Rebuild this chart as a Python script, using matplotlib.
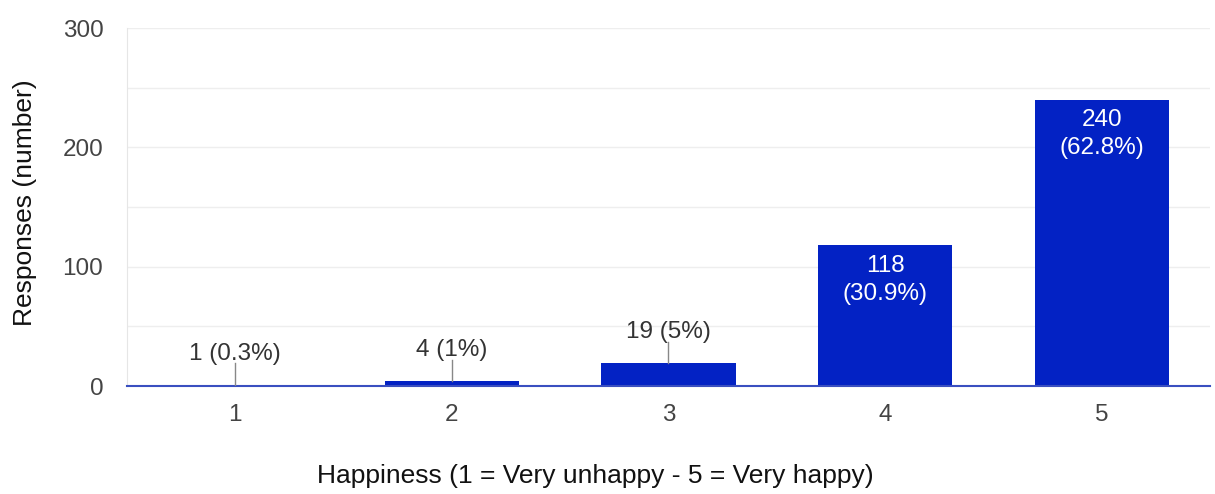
import matplotlib.pyplot as plt

plt.rcParams['font.family'] = ['Liberation Sans', 'DejaVu Sans']

categories = ['1', '2', '3', '4', '5']
responses = [1, 4, 19, 118, 240]
percents = ['0.3%', '1%', '5%', '30.9%', '62.8%']

bar_color = '#0322C4'
text_color = '#333333'

fig = plt.figure(figsize=(12.15, 4.94), dpi=100)
ax = fig.add_axes([0.1045, 0.2186, 0.8914, 0.7247])

x = list(range(1, len(categories) + 1))
ax.bar(x, responses, width=0.62, color=bar_color, zorder=2)

ax.set_xlim(0.5, 5.5)
ax.set_ylim(0, 300)
ax.set_yticks([0, 100, 200, 300])
ax.set_yticks([50, 150, 250], minor=True)
ax.set_xticks(x)
ax.set_xticklabels(categories)
ax.grid(axis='y', which='both', color='#eeeeee', linewidth=1, zorder=0)
ax.tick_params(axis='both', which='both', length=0, labelsize=17.5, colors='#444444')
ax.tick_params(axis='x', pad=13)
ax.tick_params(axis='y', pad=17)

for side in ['top', 'right']:
    ax.spines[side].set_visible(False)
ax.spines['left'].set_color('#e6e6e6')
ax.spines['bottom'].set_color('#3a4fc0')
ax.spines['bottom'].set_linewidth(1.5)
ax.spines['bottom'].set_zorder(3)

# big bars get the label inside, small ones above with a leader line
for xi, val, pct in zip(x, responses, percents):
    if val > 60:
        ax.text(xi, val - 8, f'{val}\n({pct})', ha='center', va='top',
                color='white', fontsize=17.5, linespacing=1.35, zorder=4)
    else:
        ax.plot([xi, xi], [val, val + 18], color='#888888', linewidth=1, zorder=4)
        ax.text(xi, val + 17, f'{val} ({pct})', ha='center', va='bottom',
                color=text_color, fontsize=17.5, zorder=4)

ax.set_ylabel('Responses (number)', fontsize=19, color='#111111')
ax.set_xlabel('Happiness (1 = Very unhappy - 5 = Very happy)', fontsize=19,
              color='#111111')
ax.xaxis.set_label_coords(0.432, -0.218)
ax.yaxis.set_label_coords(-0.083, 0.512)

fig.savefig('out.png', dpi=100)
